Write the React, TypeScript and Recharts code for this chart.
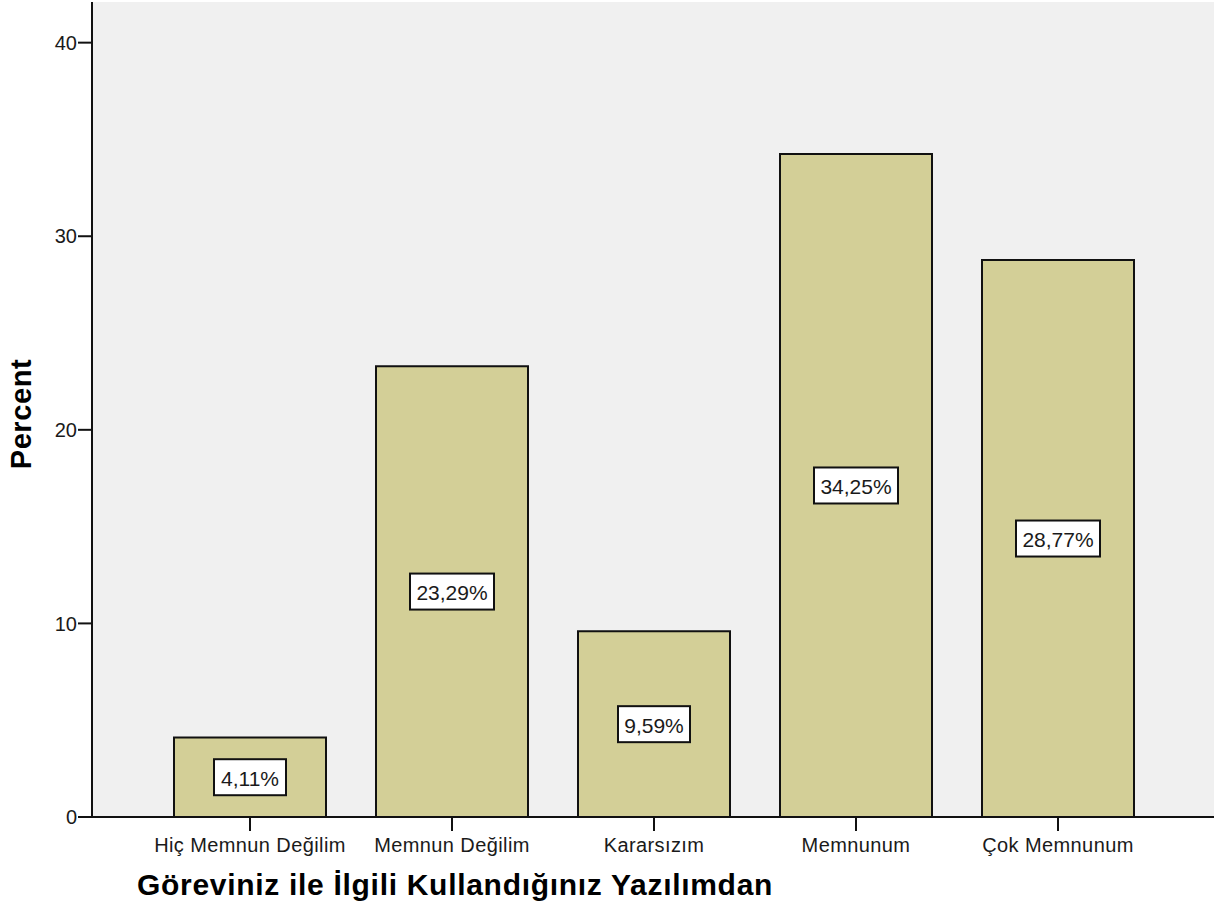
import React from "react";
import { BarChart, Bar, XAxis, YAxis, CartesianGrid, LabelList, Label } from "recharts";

const categories = ["Hiç Memnun Değilim", "Memnun Değilim", "Kararsızım", "Memnunum", "Çok Memnunum"];
const percents = [4.11, 23.29, 9.59, 34.25, 28.77];
const labels = ["4,11%", "23,29%", "9,59%", "34,25%", "28,77%"];
const yTicks = [0, 10, 20, 30, 40];

const data = categories.map((c, i) => ({ name: c, value: percents[i], label: labels[i] }));

const FONT = "Liberation Sans, Arial, Helvetica, sans-serif";

const BoxLabel = (props: any) => {
  const { x, y, width, height, index } = props;
  const text = labels[index];
  const cx = x + width / 2;
  const cy = y + height / 2;
  const w = text.length * 12 + 12;
  const h = 36;
  return (
    <g>
      <rect x={cx - w / 2} y={cy - h / 2} width={w} height={h} fill="#ffffff" stroke="#111" strokeWidth={2} />
      <text x={cx} y={cy + 1} textAnchor="middle" dominantBaseline="central" fontFamily={FONT} fontSize={21} fill="#1a1a1a">
        {text}
      </text>
    </g>
  );
};

export default function App() {
  return (
    <div style={{ position: "absolute", left: 0, top: 0, background: "#fff" }}>
      <BarChart
        width={1216}
        height={913}
        data={data}
        margin={{ top: 2, right: 2, left: 0, bottom: 0 }}
      >
        <CartesianGrid fill="#f0f0f0" stroke="none" vertical={false} horizontal={false} />
        <XAxis
          dataKey="name"
          height={96}
          padding={{ left: 57, right: 55 }}
          tickLine={{ stroke: "#111", strokeWidth: 2 }}
          axisLine={{ stroke: "#111", strokeWidth: 2 }}
          tickSize={14}
          tickMargin={7}
          interval={0}
          tick={{ fontFamily: FONT, fontSize: 20, fill: "#1a1a1a", letterSpacing: 0.4 } as any}
        >
          <Label
            content={() => (
              <text x={137} y={895} fontFamily={FONT} fontSize={30} fontWeight="bold" fill="#000" letterSpacing={0.7}>
                Göreviniz ile İlgili Kullandığınız Yazılımdan
              </text>
            )}
          />
        </XAxis>
        <XAxis xAxisId="top" orientation="top" dataKey="name" height={0} tick={false} tickLine={false} axisLine={{ stroke: "#111", strokeWidth: 2 }} />
        <YAxis
          width={92}
          domain={[0, 42.1]}
          ticks={yTicks}
          allowDataOverflow
          tickLine={{ stroke: "#111", strokeWidth: 2 }}
          axisLine={{ stroke: "#111", strokeWidth: 2 }}
          tickSize={14}
          tickMargin={1}
          tick={{ fontFamily: FONT, fontSize: 20, fill: "#1a1a1a" }}
        >
          <Label
            content={() => (
              <text
                x={31}
                y={414}
                transform="rotate(-90 31 414)"
                textAnchor="middle"
                fontFamily={FONT}
                fontSize={29}
                fontWeight="bold"
                fill="#000"
                letterSpacing={0.6}
              >
                Percent
              </text>
            )}
          />
        </YAxis>
        <YAxis yAxisId="right" orientation="right" width={0} tick={false} tickLine={false} axisLine={{ stroke: "#111", strokeWidth: 2 }} />
        <Bar dataKey="value" fill="#d3cf97" stroke="#111" strokeWidth={2} barSize={152} isAnimationActive={false}>
          <LabelList dataKey="label" content={BoxLabel} />
        </Bar>
      </BarChart>
    </div>
  );
}
